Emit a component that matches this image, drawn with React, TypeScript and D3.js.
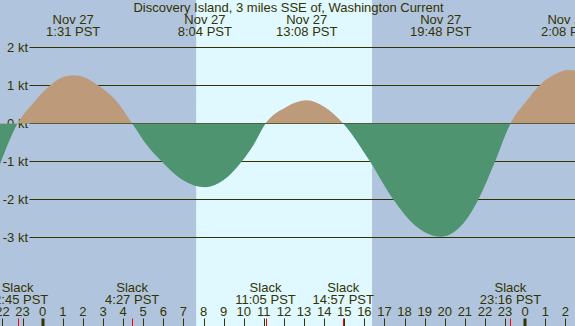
import React, { useEffect } from 'react'
import * as d3 from 'd3'

// chart values
const title = 'Discovery Island, 3 miles SSE of, Washington Current'

// maximum current events (top labels)
const maxDates = ['Nov 27', 'Nov 27', 'Nov 27', 'Nov 27', 'Nov 28']
const maxTimes = ['1:31', '8:04', '13:08', '19:48', '2:08']
const maxDayOffset = [0, 0, 0, 0, 1]

// slack events (bottom labels)
const slackTimes = ['22:45', '4:27', '11:05', '14:57', '23:16']
const slackDayOffset = [-1, 0, 0, 0, 0]

// current speed curve, hours from midnight Nov 27 and knots
const curveHours = [-2.2, -1.25, -0.5, 0.36, 0.9, 1.517, 2.1, 2.77, 3.6, 4.45, 5.2, 5.92, 7.0, 8.067, 9.0, 9.9, 10.5, 11.083, 12.1, 13.133, 14.0, 14.95, 16.28, 17.44, 18.6, 19.8, 20.8, 21.67, 22.5, 23.267, 24.0, 24.79, 25.5, 26.133, 26.6]
const curveKnots = [-1.18, 0, 0.52, 1.0, 1.2, 1.27, 1.21, 1.0, 0.63, 0, -0.58, -1.0, -1.5, -1.68, -1.49, -1.0, -0.55, 0, 0.43, 0.61, 0.44, 0, -1.0, -2.0, -2.72, -2.98, -2.7, -2.0, -1.0, 0, 0.55, 1.04, 1.3, 1.41, 1.38]

const ktTicks = [2, 1, 0, -1, -2, -3]
const sunrise = '7:38'
const sunset = '16:23'

const W = 575
const H = 326
const ink = '#333300'
const fontFamily = '"Liberation Sans", Arial, sans-serif'

const toHours = (t: string, dayOffset = 0) => {
  const [h, m] = t.split(':').map(Number)
  return h + m / 60 + dayOffset * 24
}

export default function App() {
  useEffect(() => {
    document.body.style.margin = '0'
  }, [])

  const x = d3.scaleLinear().domain([0, 24]).range([42.7, 525.2])
  const y = d3.scaleLinear().domain([0, 2]).range([123.5, 47.5])

  const pts = curveHours.map((h, i) => [h, curveKnots[i]] as [number, number])
  const area = d3.area<[number, number]>()
    .x(d => x(d[0]))
    .y0(y(0))
    .y1(d => y(d[1]))
    .curve(d3.curveMonotoneX)
  const areaPath = area(pts) || ''

  const hourTicks = d3.range(-2, 27)
  const crisp = (v: number) => Math.round(v) + 0.5

  return (
    <svg width={W} height={H} style={{ position: 'absolute', left: 0, top: 0, display: 'block' }}
      fontFamily={fontFamily} fontSize={13} fill={ink}>
      <defs>
        <clipPath id="above">
          <rect x={0} y={0} width={W} height={y(0)} />
        </clipPath>
        <clipPath id="below">
          <rect x={0} y={y(0)} width={W} height={H - y(0)} />
        </clipPath>
      </defs>

      {/* night / day background */}
      <rect x={0} y={0} width={W} height={H} fill="#b0c4de" />
      <rect x={x(toHours(sunrise))} y={0} width={x(toHours(sunset)) - x(toHours(sunrise))} height={H} fill="#e0f8ff" />

      {/* knot grid lines */}
      {ktTicks.map(k => (
        <g key={k}>
          <line x1={29.5} x2={W} y1={y(k)} y2={y(k)} stroke={ink} strokeWidth={1} />
          <text x={28} y={y(k)} dy="0.36em" textAnchor="end">{k} kt</text>
        </g>
      ))}

      {/* flood / ebb areas */}
      <path d={areaPath} fill="#bd9a7a" clipPath="url(#above)" />
      <path d={areaPath} fill="#4f9470" clipPath="url(#below)" />

      <text x={W / 2 + 1} y={12} textAnchor="middle">{title}</text>

      {maxTimes.map((t, i) => {
        const cx = x(toHours(t, maxDayOffset[i]))
        return (
          <g key={t}>
            <text x={cx} y={24} textAnchor="middle">{maxDates[i]}</text>
            <text x={cx} y={36} textAnchor="middle">{t} PST</text>
          </g>
        )
      })}

      {slackTimes.map((t, i) => {
        const cx = x(toHours(t, slackDayOffset[i]))
        return (
          <g key={t}>
            <text x={cx} y={291.5} textAnchor="middle">Slack</text>
            <text x={cx} y={303.5} textAnchor="middle">{t} PST</text>
          </g>
        )
      })}

      {/* hour axis */}
      {hourTicks.map(h => {
        const hx = x(h)
        const hr = ((h % 24) + 24) % 24
        return (
          <g key={h}>
            <text x={hx} y={315.5} textAnchor="middle">{hr}</text>
            {hr === 0
              ? <rect x={Math.round(hx) - 1.5} y={318.5} width={3} height={8} fill={ink} />
              : <line x1={crisp(hx)} x2={crisp(hx)} y1={318.5} y2={H} stroke={ink} strokeWidth={1} />}
          </g>
        )
      })}
      {slackTimes.map((t, i) => {
        const sx = crisp(x(toHours(t, slackDayOffset[i])))
        return <line key={'r' + t} x1={sx} x2={sx} y1={318.5} y2={H} stroke="#ff0000" strokeWidth={1} />
      })}
    </svg>
  )
}
